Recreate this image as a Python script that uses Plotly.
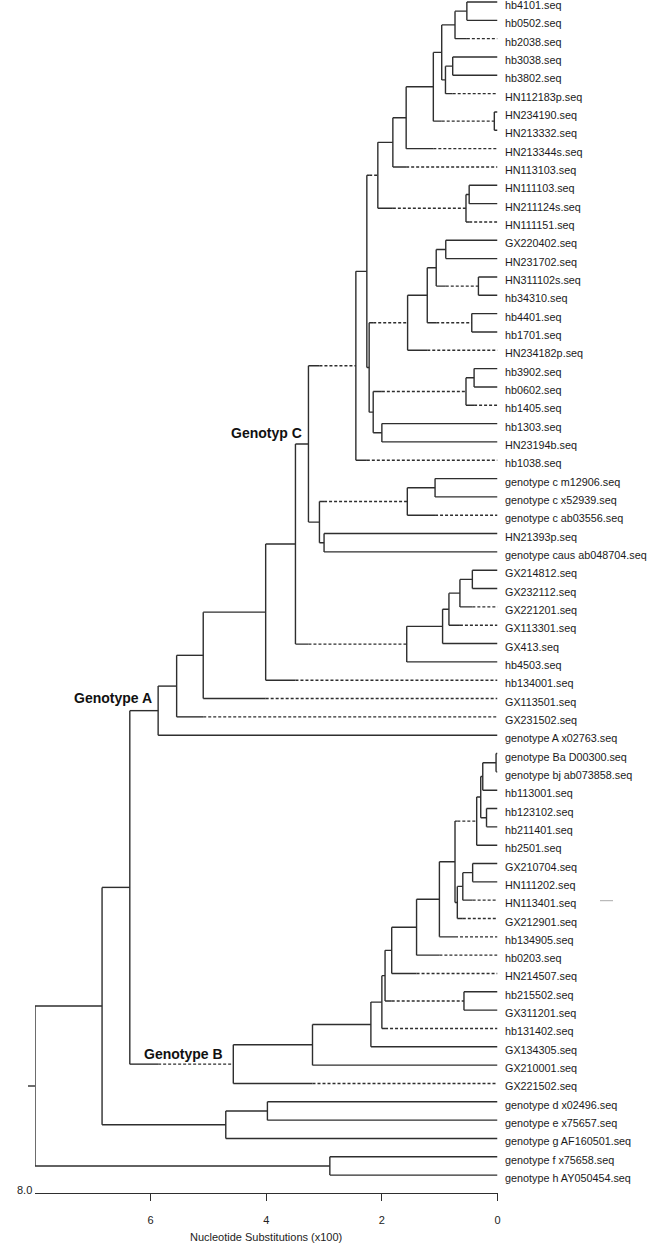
import plotly.graph_objects as go

# ---------------- data ----------------
leaf_labels = [
    "hb4101.seq", "hb0502.seq", "hb2038.seq", "hb3038.seq", "hb3802.seq",
    "HN112183p.seq", "HN234190.seq", "HN213332.seq", "HN213344s.seq", "HN113103.seq",
    "HN111103.seq", "HN211124s.seq", "HN111151.seq", "GX220402.seq", "HN231702.seq",
    "HN311102s.seq", "hb34310.seq", "hb4401.seq", "hb1701.seq", "HN234182p.seq",
    "hb3902.seq", "hb0602.seq", "hb1405.seq", "hb1303.seq", "HN23194b.seq",
    "hb1038.seq", "genotype c m12906.seq", "genotype c x52939.seq", "genotype c ab03556.seq",
    "HN21393p.seq", "genotype caus ab048704.seq", "GX214812.seq", "GX232112.seq",
    "GX221201.seq", "GX113301.seq", "GX413.seq", "hb4503.seq", "hb134001.seq",
    "GX113501.seq", "GX231502.seq", "genotype A x02763.seq", "genotype Ba D00300.seq",
    "genotype bj ab073858.seq", "hb113001.seq", "hb123102.seq", "hb211401.seq",
    "hb2501.seq", "GX210704.seq", "HN111202.seq", "HN113401.seq", "GX212901.seq",
    "hb134905.seq", "hb0203.seq", "HN214507.seq", "hb215502.seq", "GX311201.seq",
    "hb131402.seq", "GX134305.seq", "GX210001.seq", "GX221502.seq",
    "genotype d x02496.seq", "genotype e x75657.seq", "genotype g AF160501.seq",
    "genotype f x75658.seq", "genotype h AY050454.seq",
]

# internal nodes: id, first child, second child, height (substitutions x100)
node_ids = ["n%02d" % k for k in range(1, 65)]
node_left = [
    "hb4101.seq", "n01", "hb3038.seq", "n03", "n02", "HN234190.seq", "n05", "n07", "n08",
    "HN111103.seq", "n10", "n09", "GX220402.seq", "HN311102s.seq", "n13", "hb4401.seq",
    "n15", "n17", "hb3902.seq", "n19", "hb1303.seq", "n20", "n18", "n12", "n24",
    "genotype c m12906.seq", "n26", "HN21393p.seq", "n27", "n25", "GX214812.seq", "n31",
    "n32", "n33", "n34", "n30", "n36", "n37", "n38", "n39",
    "genotype Ba D00300.seq", "n41", "hb123102.seq", "n42", "n44", "GX210704.seq", "n46",
    "n47", "n45", "n49", "n50", "n51", "hb215502.seq", "n52", "n54", "n55", "n56", "n57",
    "n40", "genotype d x02496.seq", "n60", "n59", "genotype f x75658.seq", "n62",
]
node_right = [
    "hb0502.seq", "hb2038.seq", "hb3802.seq", "HN112183p.seq", "n04", "HN213332.seq", "n06",
    "HN213344s.seq", "HN113103.seq", "HN211124s.seq", "HN111151.seq", "n11",
    "HN231702.seq", "hb34310.seq", "n14", "hb1701.seq", "n16", "HN234182p.seq",
    "hb0602.seq", "hb1405.seq", "HN23194b.seq", "n21", "n22", "n23", "hb1038.seq",
    "genotype c x52939.seq", "genotype c ab03556.seq", "genotype caus ab048704.seq", "n28",
    "n29", "GX232112.seq", "GX221201.seq", "GX113301.seq", "GX413.seq", "hb4503.seq",
    "n35", "hb134001.seq", "GX113501.seq", "GX231502.seq", "genotype A x02763.seq",
    "genotype bj ab073858.seq", "hb113001.seq", "hb211401.seq", "n43", "hb2501.seq",
    "HN111202.seq", "HN113401.seq", "GX212901.seq", "n48", "hb134905.seq", "hb0203.seq",
    "HN214507.seq", "GX311201.seq", "n53", "hb131402.seq", "GX134305.seq", "GX210001.seq",
    "GX221502.seq", "n58", "genotype e x75657.seq", "genotype g AF160501.seq", "n61",
    "genotype h AY050454.seq", "n63",
]
node_height = [
    0.53, 0.735, 0.775, 0.90, 0.965, 0.055, 1.11, 1.58, 1.81,
    0.49, 0.545, 2.07, 0.895, 0.33, 1.06, 0.445, 1.215, 1.555, 0.405, 0.545, 2.0,
    2.15, 2.22, 2.26, 2.45, 1.08, 1.56, 3.0, 3.08, 3.27, 0.435, 0.65, 0.84, 0.95,
    1.57, 3.495, 4.01, 5.09, 5.55, 5.87,
    0.025, 0.255, 0.19, 0.29, 0.36, 0.43, 0.60, 0.695, 0.735, 1.005, 1.40, 1.83,
    0.58, 1.945, 2.0, 2.19, 3.2, 4.57, 6.36, 3.98, 4.70, 6.84, 2.9, 8.0,
]

# branches drawn partly dashed (dashes start level with the sibling node)
dashed_branches = [
    "hb2038.seq", "HN112183p.seq", "n06", "HN213344s.seq", "HN113103.seq", "n11",
    "HN111151.seq", "n12", "n18", "n14", "n16", "HN234182p.seq", "n20", "hb1405.seq",
    "hb1038.seq", "n25", "n27", "genotype c ab03556.seq", "n35", "GX221201.seq",
    "GX113301.seq", "hb134001.seq", "GX113501.seq", "GX231502.seq", "n58", "n45",
    "HN113401.seq", "GX212901.seq", "hb134905.seq", "hb0203.seq", "HN214507.seq",
    "n53", "hb131402.seq", "GX221502.seq",
]

tick_values = [6, 4, 2, 0]
tick_labels = ["6", "4", "2", "0"]
clade_labels = ["Genotyp C", "Genotype A", "Genotype B"]
axis_title = "Nucleotide Substitutions (x100)"

# ---------------- geometry ----------------
W, H = 650, 1245
px_zero, px_unit = 497.5, 57.8        # x pixel of 0 and pixels per unit
row0, row_step = 2.0, 18.33           # y pixel of first leaf row, row spacing
axis_px = 1193.0                      # plot area runs from 0 to axis_px

height = {lab: 0.0 for lab in leaf_labels}
ypos = {lab: i + 1 for i, lab in enumerate(leaf_labels)}
children = {}
for nid, a, b, h in zip(node_ids, node_left, node_right, node_height):
    height[nid] = h
    children[nid] = (a, b)
    ypos[nid] = (ypos[a] + ypos[b]) / 2.0
dashed = set(dashed_branches)

sx, sy, dx, dy = [], [], [], []
for nid, (a, b) in children.items():
    h = height[nid]
    sx += [h, h, None]
    sy += [ypos[a], ypos[b], None]
    for c, sib in ((a, b), (b, a)):
        if c in dashed:
            mid = height[sib]
            sx += [h, mid, None]
            sy += [ypos[c], ypos[c], None]
            dx += [mid, height[c], None]
            dy += [ypos[c], ypos[c], None]
        else:
            sx += [h, height[c], None]
            sy += [ypos[c], ypos[c], None]

line_col = "#2e2e2e"
fig = go.Figure()
fig.add_trace(go.Scatter(x=sx, y=sy, mode="lines", hoverinfo="skip",
                         line=dict(color=line_col, width=1.4), showlegend=False))
fig.add_trace(go.Scatter(x=dx, y=dy, mode="lines", hoverinfo="skip",
                         line=dict(color=line_col, width=1.4, dash="3px,2px"),
                         showlegend=False))

font_fam = "Arial"
annotations = []
for lab in leaf_labels:
    annotations.append(dict(x=0, y=ypos[lab], xref="x", yref="y", text=lab,
                            showarrow=False, xanchor="left", yanchor="middle",
                            xshift=7, yshift=-3, borderpad=0, borderwidth=0,
                            font=dict(family=font_fam, size=10.8, color="#1a1a1a")))


def vx(px):
    return (px_zero - px) / px_unit


def vy(py):
    return 1 + (py - row0) / row_step


def paper_y(py):
    return 1 - py / axis_px


clade_pos = [(303, 433), (153, 698), (224, 1054)]
for text, (px, py) in zip(clade_labels, clade_pos):
    annotations.append(dict(x=vx(px), y=vy(py), xref="x", yref="y",
                            text="<b>%s</b>" % text, showarrow=False,
                            xanchor="right", yanchor="middle", borderpad=0,
                            font=dict(family=font_fam, size=14, color="#111111")))

annotations.append(dict(x=33 / W, y=paper_y(1190), xref="paper", yref="paper", text="8.0",
                        showarrow=False, xanchor="right", yanchor="middle", borderpad=0,
                        font=dict(family=font_fam, size=11, color="#222222")))
annotations.append(dict(x=(35 + px_zero) / 2 / W, y=paper_y(1237), xref="paper",
                        yref="paper", text=axis_title, showarrow=False,
                        xanchor="center", yanchor="middle", borderpad=0,
                        font=dict(family=font_fam, size=11, color="#222222")))

root_py = row0 + (ypos["n64"] - 1) * row_step
shapes = [
    dict(type="line", xref="paper", yref="paper", x0=28 / W, x1=35 / W,
         y0=paper_y(root_py), y1=paper_y(root_py), line=dict(color=line_col, width=1.4)),
    dict(type="line", xref="paper", yref="paper", x0=600 / W, x1=613 / W,
         y0=paper_y(900.7), y1=paper_y(900.7), line=dict(color="#aaaaaa", width=1)),
]

fig.update_layout(
    width=W, height=H,
    margin=dict(l=0, r=0, t=0, b=H - axis_px, pad=0),
    paper_bgcolor="white", plot_bgcolor="white",
    annotations=annotations, shapes=shapes,
    xaxis=dict(domain=[35 / W, px_zero / W], range=[8, 0], showgrid=False,
               zeroline=False, showline=True, linecolor=line_col, linewidth=1.4,
               ticks="outside", ticklen=7, tickwidth=1.4, tickcolor=line_col,
               tickvals=tick_values, ticktext=tick_labels, ticklabelstandoff=10,
               tickfont=dict(family=font_fam, size=11, color="#222222"),
               automargin=False, fixedrange=True),
    yaxis=dict(range=[vy(axis_px), vy(0)], visible=False, fixedrange=True),
)

fig.write_html(
    "out.html",
    config={"displayModeBar": False},
    post_script="document.body.style.margin='0';document.body.style.overflow='hidden';",
)
